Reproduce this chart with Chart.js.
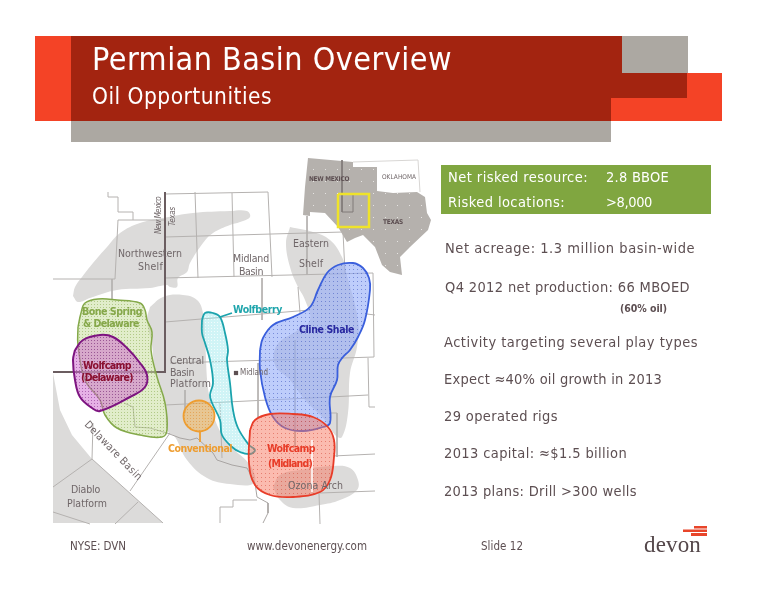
<!DOCTYPE html>
<html>
<head>
<meta charset="utf-8">
<script src="https://cdn.jsdelivr.net/npm/chart.js@4"></script>
<style>
html, body { margin: 0; padding: 0; background: #fff; }
canvas { display: block; }
</style>
</head>
<body>
<canvas id="slide" width="776" height="600"></canvas>
<script>
// map outlines, in slide units
const orangeBand = [[35,36],[71,36],[71,121],[35,121]];
const orangeStep = [[611,98],[687,98],[687,73],[722,73],[722,121],[611,121]];
const greyTop = [[622,36],[688,36],[688,73],[622,73]];
const greyBottom = [[71,121],[611,121],[611,142],[71,142]];
const redBand = [[71,36],[622,36],[622,73],[687,73],[687,98],[611,98],[611,121],[71,121]];
const greenBox = [[441,165],[711,165],[711,214],[441,214]];

const nwShelf = [[73,296],[75,287],[82,277],[93,263],[107,247],[120,233],[140,223],[163,218],[193,213],[230,211],[247,211],[250,217],[240,222],[230,225],[213,233],[203,243],[190,263],[187,272],[178,278],[177,287],[170,287],[167,285],[150,288],[117,290],[90,298],[78,302],[73,296]];
const centralPlatform = [[150,307],[163,297],[183,295],[197,300],[203,313],[205,340],[210,400],[225,440],[250,465],[254,483],[230,484],[207,478],[187,460],[175,437],[167,430],[165,403],[155,370],[152,345],[147,320],[150,307]];
const easternShelf = [[290,227],[313,232],[330,240],[342,257],[346,272],[358,320],[357,347],[350,373],[348,413],[342,437],[336,436],[325,420],[305,400],[290,380],[275,365],[277,345],[298,330],[310,320],[305,300],[297,285],[290,267],[286,243],[290,227]];
const ozonaArch = [[273,487],[280,500],[293,508],[320,505],[340,500],[357,490],[358,480],[350,468],[333,466],[300,470],[280,475],[273,487]];
const delawareWest = [[53,373],[60,410],[72,435],[92,459],[163,523],[53,523]];
const texasInset = [[308,158],[353,162],[353,167],[377,167],[377,191],[393,193],[417,192],[425,197],[427,213],[431,220],[428,230],[410,247],[400,257],[402,275],[390,272],[382,265],[375,247],[363,235],[355,238],[347,242],[338,227],[325,213],[310,212],[310,216],[303,215],[305,187]];

const boneSpring = [[78,327],[81,313],[85,303],[98,299],[117,300],[140,303],[145,310],[147,320],[152,332],[151,350],[157,377],[165,403],[167,430],[162,437],[140,435],[117,428],[105,415],[100,400],[85,380],[78,345],[78,327]];
const wolfcampDelaware = [[75,350],[83,340],[100,335],[113,337],[127,348],[140,363],[147,375],[145,387],[130,397],[100,411],[92,408],[80,397],[75,380],[73,360],[75,350]];
const wolfberry = [[202,320],[205,313],[213,313],[220,317],[225,333],[228,350],[227,360],[230,383],[233,410],[238,428],[249,445],[255,450],[250,454],[240,452],[232,447],[222,435],[220,420],[212,403],[210,395],[213,383],[210,360],[205,343],[202,333],[202,320]];
const clineShale = [[260,350],[263,338],[273,325],[293,317],[310,307],[318,290],[327,273],[338,265],[353,263],[363,268],[369,278],[370,290],[365,320],[358,337],[350,350],[343,357],[338,365],[337,380],[330,397],[330,423],[323,427],[303,431],[285,428],[273,417],[265,397],[260,370],[260,350]];
const wolfcampMidland = [[250,430],[255,420],[270,414],[293,414],[313,417],[328,427],[334,440],[334,457],[330,480],[320,492],[293,497],[270,495],[255,485],[249,463],[250,430]];
const conventionalSpot = [[199,416]];
const midlandTown = [[236,373]];

const countyLines = [
  [[165,194],[268,192],[272,277]],
  [[195,192],[198,278]],
  [[232,193],[234,277]],
  [[165,237],[343,232],[345,273]],
  [[307,216],[307,275]],
  [[165,278],[373,273],[374,357],[343,358],[170,363]],
  [[262,278],[262,320]],
  [[298,287],[300,313]],
  [[165,322],[310,310]],
  [[367,314],[375,315]],
  [[368,358],[369,407],[375,407]],
  [[165,405],[330,397],[368,395]],
  [[258,363],[258,417]],
  [[295,340],[295,447]],
  [[330,413],[337,413],[337,457]],
  [[333,456],[375,454]],
  [[320,493],[375,491]],
  [[319,493],[320,524]],
  [[53,279],[115,279],[118,220],[165,220]],
  [[133,220],[133,212],[118,212],[118,197],[108,197],[108,192]],
  [[112,279],[112,300]],
  [[185,390],[185,413]],
  [[222,458],[220,403]],
  [[220,523],[220,507],[233,507],[233,500],[257,500]],
  [[93,423],[92,459],[53,487]],
  [[53,512],[90,524]],
  [[138,502],[115,524]],
  [[170,433],[130,491]],
  [[92,459],[163,523]]
];
const riverLine = [[124,403],[133,407],[135,427],[150,428],[167,433],[180,438],[190,440],[197,438],[213,453],[217,460],[232,465],[247,468],[255,483],[257,497],[268,503],[268,513],[263,523]];
const stateLine = [[165,192],[165,372],[53,372]];
const oklahomaEdge = [[353,162],[418,160],[420,192]];
const insetBox = [[338,194],[369,194],[369,227],[338,227],[338,194]];
const insetCounties = [[342,160],[342,212],[353,212],[353,195]];
const wolfberryLeader = [[220,317],[232,313]];
const conventionalLeader = [[200,432],[200,442]];
const midlandSeam = [[312,440],[312,492]];
const logoBars = [
  [[694,526],[707,526],[707,528.5],[694,528.5]],
  [[683,529.5],[707,529.5],[707,532],[683,532]],
  [[691,533],[707,533],[707,536],[691,536]]
];

// slide text
const titleText = 'Permian Basin Overview';
const subtitleText = 'Oil Opportunities';
const resourceLabels = ['Net risked resource:', 'Risked locations:'];
const resourceValues = ['2.8 BBOE', '>8,000'];
const bulletLines = [
  'Net acreage: 1.3 million basin-wide',
  'Q4 2012 net production: 66 MBOED',
  'Activity targeting several play types',
  'Expect \u224840% oil growth in 2013',
  '29 operated rigs',
  '2013 capital: \u2248$1.5 billion',
  '2013 plans: Drill >300 wells'
];
const footerTexts = ['NYSE: DVN', 'www.devonenergy.com', 'Slide 12'];

const bodyFont = '"DejaVu Sans Condensed", "DejaVu Sans"';

function dots(base, dot, step, size) {
  const c = document.createElement('canvas');
  c.width = c.height = step;
  const g = c.getContext('2d');
  g.fillStyle = base;
  g.fillRect(0, 0, step, step);
  g.fillStyle = dot;
  g.fillRect(1, 1, size, size);
  return g.createPattern(c, 'repeat');
}

const xy = pts => pts.map(p => ({ x: p[0], y: p[1] }));

const shape = (pts, color, extra) => Object.assign({
  data: xy(pts), showLine: true, fill: 'shape', backgroundColor: color,
  borderWidth: 0, pointRadius: 0, tension: 0, clip: false
}, extra);

const blob = (pts, color, edge, width) => shape(pts, color, {
  borderColor: edge, borderWidth: width || 0, tension: 0.4
});

const line = (pts, color, width) => ({
  data: xy(pts), showLine: true, fill: false, borderColor: color,
  borderWidth: width || 1, pointRadius: 0, tension: 0, clip: false
});

const grey = '#dcdbda';
const county = '#b5b2b0';

// back to front
const layers = [
  shape(orangeBand, '#f44326'),
  shape(orangeStep, '#f44326'),
  shape(greyTop, '#aca8a2'),
  shape(greyBottom, '#aca8a2'),
  shape(redBand, '#a32410'),
  shape(greenBox, '#80a640'),
  shape(delawareWest, grey),
  blob(nwShelf, grey),
  blob(centralPlatform, grey),
  blob(easternShelf, grey),
  blob(ozonaArch, grey),
  ...countyLines.map(l => line(l, county, 1)),
  line(riverLine, '#a9a5a3', 1),
  shape(texasInset, dots('#b5b1ad', '#e6e4e2', 12, 1)),
  line(oklahomaEdge, '#d8d6d4', 1),
  line(insetCounties, '#807b78', 1),
  line(insetBox, '#efe32a', 2.5),
  line(stateLine, '#6b5d60', 2),
  blob(boneSpring, dots('rgba(195,220,150,0.5)', 'rgba(130,165,70,0.5)', 3, 1), '#84a94a', 1.5),
  blob(wolfberry, dots('rgba(150,230,235,0.45)', 'rgba(255,255,255,0.7)', 3, 1), '#1ba3ad', 1.8),
  line(wolfberryLeader, '#1ba3ad', 1.8),
  line(conventionalLeader, '#ee9d30', 1.8),
  {
    data: xy(conventionalSpot), showLine: false, pointRadius: 15.5, pointBorderWidth: 1.8,
    pointBorderColor: '#ee9d30', pointBackgroundColor: dots('rgba(240,180,90,0.55)', 'rgba(225,140,40,0.55)', 3, 1), clip: false
  },
  {
    data: xy(midlandTown), showLine: false, pointStyle: 'rect', pointRadius: 3,
    pointBorderWidth: 0, pointBackgroundColor: '#5d4f52', clip: false
  },
  blob(clineShale, dots('rgba(150,175,248,0.62)', 'rgba(60,85,190,0.55)', 4, 1), '#3a5fdc', 1.8),
  blob(wolfcampMidland, dots('rgba(248,120,95,0.5)', 'rgba(205,50,35,0.45)', 4, 1), '#e83c28', 1.8),
  line(midlandSeam, 'rgba(255,255,255,0.75)', 1),
  blob(wolfcampDelaware, dots('rgba(205,100,205,0.5)', 'rgba(120,25,130,0.5)', 3, 1), '#7d1480', 2),
  ...logoBars.map(b => shape(b, '#e8452a'))
];

const slideText = {
  id: 'slideText',
  afterDatasetsDraw(chart) {
    const ctx = chart.ctx;
    const sx = chart.scales.x, sy = chart.scales.y;
    // width is the run length of the string on the slide
    const put = (str, x, y, width, font, color, angle) => {
      ctx.save();
      ctx.font = font;
      ctx.fillStyle = color;
      ctx.textBaseline = 'alphabetic';
      ctx.letterSpacing = '0px';
      const gap = (width - ctx.measureText(str).width) / str.length;
      ctx.letterSpacing = gap.toFixed(2) + 'px';
      ctx.translate(sx.getPixelForValue(x), sy.getPixelForValue(y));
      if (angle) ctx.rotate(angle * Math.PI / 180);
      ctx.fillText(str, 0, 0);
      ctx.restore();
    };

    put(titleText, 92, 70, 360, '32px ' + bodyFont, '#fff');
    put(subtitleText, 92, 104, 180, '22.5px ' + bodyFont, '#fff');

    const white = '14.5px ' + bodyFont;
    put(resourceLabels[0], 448, 182, 140, white, '#fff');
    put(resourceValues[0], 606, 182, 63, white, '#fff');
    put(resourceLabels[1], 448, 207, 117, white, '#fff');
    put(resourceValues[1], 606, 207, 46, white, '#fff');

    const ink = '#5d4f52';
    const bullet = '14.5px ' + bodyFont;
    put(bulletLines[0], 445, 253, 250, bullet, ink);
    put(bulletLines[1], 445, 292, 245, bullet, ink);
    put('(60% oil)', 620, 312, 47, '700 10.5px ' + bodyFont, ink);
    put(bulletLines[2], 444, 347, 254, bullet, ink);
    put(bulletLines[3], 444, 384, 218, bullet, ink);
    put(bulletLines[4], 444, 421, 114, bullet, ink);
    put(bulletLines[5], 444, 458, 183, bullet, ink);
    put(bulletLines[6], 444, 496, 193, bullet, ink);

    const foot = '11.5px ' + bodyFont;
    put(footerTexts[0], 70, 550, 56, foot, ink);
    put(footerTexts[1], 247, 550, 120, foot, ink);
    put(footerTexts[2], 481, 550, 42, foot, ink);
    put('devon', 644, 552, 57, '23px "Liberation Serif"', '#54474a');

    const plain = '10.5px ' + bodyFont, soft = '#6f6668';
    put('Northwestern', 118, 257, 64, plain, soft);
    put('Shelf', 138, 270, 25, plain, soft);
    put('Midland', 233, 262, 36, plain, soft);
    put('Basin', 239, 275, 24, plain, soft);
    put('Eastern', 293, 247, 36, plain, soft);
    put('Shelf', 299, 267, 24, plain, soft);
    put('Central', 170, 364, 34, plain, soft);
    put('Basin', 170, 376, 24, plain, soft);
    put('Platform', 170, 387, 41, plain, soft);
    put('Diablo', 71, 493, 29, plain, soft);
    put('Platform', 67, 507, 40, plain, soft);
    put('Ozona Arch', 288, 489, 55, plain, soft);
    put('Delaware Basin', 84, 425, 78, plain, soft, 46);
    put('Midland', 240, 375, 28, '8px ' + bodyFont, soft);

    const strong = '700 10.5px ' + bodyFont;
    put('Bone Spring', 82, 315, 60, strong, '#86a84a');
    put('& Delaware', 83, 327, 56, strong, '#86a84a');
    put('Wolfcamp', 83, 369, 48, strong, '#8a1030');
    put('(Delaware)', 81, 381, 52, strong, '#8a1030');
    put('Conventional', 168, 452, 64, strong, '#ee9d30');
    put('Wolfberry', 233, 313, 49, strong, '#1fa5ac');
    put('Cline Shale', 299, 333, 55, strong, '#2828a0');
    put('Wolfcamp', 267, 452, 48, strong, '#e83c28');
    put('(Midland)', 268, 467, 44, strong, '#e83c28');

    put('New Mexico', 161, 234, 37, 'italic 8px ' + bodyFont, soft, -90);
    put('Texas', 175, 226, 19, 'italic 8px ' + bodyFont, soft, -90);
    put('NEW MEXICO', 309, 181, 40, '700 6.5px ' + bodyFont, '#5d4f52');
    put('OKLAHOMA', 382, 179, 34, '6.5px ' + bodyFont, soft);
    put('TEXAS', 383, 224, 20, '700 6.5px ' + bodyFont, '#5d4f52');
  }
};

new Chart(document.getElementById('slide').getContext('2d'), {
  type: 'scatter',
  data: { datasets: layers.reverse() },
  options: {
    responsive: false,
    animation: false,
    layout: { padding: 0, autoPadding: false },
    plugins: { legend: { display: false }, tooltip: { enabled: false } },
    scales: {
      x: { type: 'linear', display: false, min: 0, max: 776 },
      y: { type: 'linear', display: false, min: 0, max: 600, reverse: true }
    }
  },
  plugins: [slideText]
});
</script>
</body>
</html>
